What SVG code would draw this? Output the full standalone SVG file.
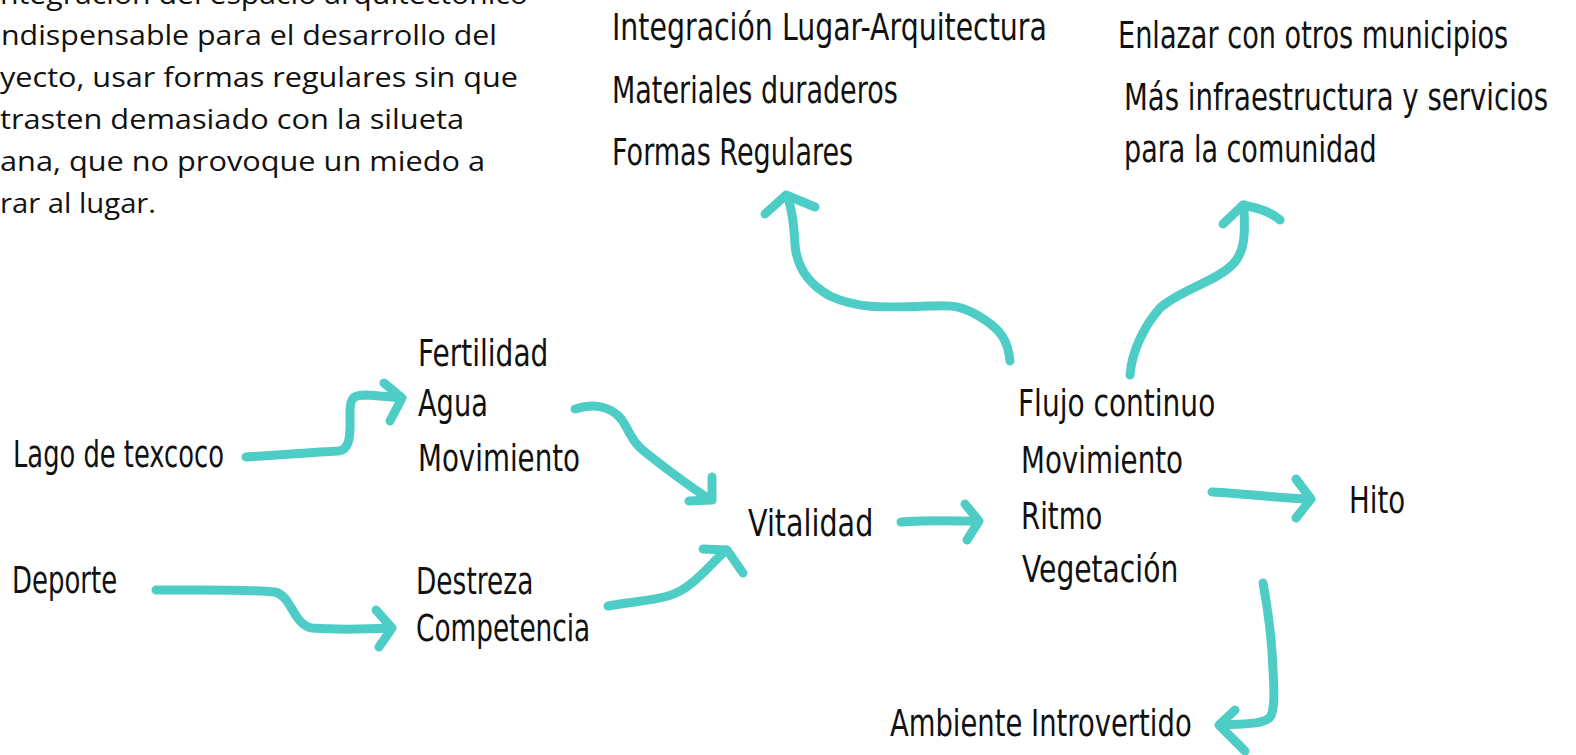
<svg xmlns="http://www.w3.org/2000/svg" width="1576" height="755" viewBox="0 0 1576 755">
<style>
.p{font-family:"Open Sans","Liberation Sans",sans-serif;font-size:28px;fill:#111}
.h{font-family:"DejaVu Sans","Liberation Sans",sans-serif;font-size:38px;fill:#111}
.c{fill:none;stroke:#4ecdc6;stroke-width:9;stroke-linecap:round;stroke-linejoin:round}
</style>
<rect width="1576" height="755" fill="#fff"/>
<g id="nota">
<text class="p" x="0" y="4" textLength="528" lengthAdjust="spacingAndGlyphs">ntegración del espacio arquitectónico</text>
<text class="p" x="1" y="45" textLength="496" lengthAdjust="spacingAndGlyphs">ndispensable para el desarrollo del</text>
<text class="p" x="0" y="87" textLength="518" lengthAdjust="spacingAndGlyphs">yecto, usar formas regulares sin que</text>
<text class="p" x="0" y="129" textLength="464" lengthAdjust="spacingAndGlyphs">trasten demasiado con la silueta</text>
<text class="p" x="0" y="171" textLength="485" lengthAdjust="spacingAndGlyphs">ana, que no provoque un miedo a</text>
<text class="p" x="0" y="213" textLength="156" lengthAdjust="spacingAndGlyphs">rar al lugar.</text>
</g>
<g id="arquitectura">
<text class="h" transform="translate(612,40) scale(0.72,1)" textLength="604" lengthAdjust="spacingAndGlyphs">Integración Lugar-Arquitectura</text>
<text class="h" transform="translate(612,103) scale(0.72,1)" textLength="397" lengthAdjust="spacingAndGlyphs">Materiales duraderos</text>
<text class="h" transform="translate(612,165) scale(0.72,1)" textLength="335" lengthAdjust="spacingAndGlyphs">Formas Regulares</text>
</g>
<g id="comunidad">
<text class="h" transform="translate(1118,48) scale(0.72,1)" textLength="542" lengthAdjust="spacingAndGlyphs">Enlazar con otros municipios</text>
<text class="h" transform="translate(1124,110) scale(0.72,1)" textLength="589" lengthAdjust="spacingAndGlyphs">Más infraestructura y servicios</text>
<text class="h" transform="translate(1124,162) scale(0.72,1)" textLength="351" lengthAdjust="spacingAndGlyphs">para la comunidad</text>
</g>
<g id="lago"><text class="h" transform="translate(13,467) scale(0.72,1)" textLength="293" lengthAdjust="spacingAndGlyphs">Lago de texcoco</text></g>
<g id="agua">
<text class="h" transform="translate(418,366) scale(0.72,1)" textLength="181" lengthAdjust="spacingAndGlyphs">Fertilidad</text>
<text class="h" transform="translate(418,416) scale(0.72,1)" textLength="97" lengthAdjust="spacingAndGlyphs">Agua</text>
<text class="h" transform="translate(418,471) scale(0.72,1)" textLength="225" lengthAdjust="spacingAndGlyphs">Movimiento</text>
</g>
<g id="deporte"><text class="h" transform="translate(12,593) scale(0.72,1)" textLength="146" lengthAdjust="spacingAndGlyphs">Deporte</text></g>
<g id="competencia">
<text class="h" transform="translate(416,594) scale(0.72,1)" textLength="163" lengthAdjust="spacingAndGlyphs">Destreza</text>
<text class="h" transform="translate(416,641) scale(0.72,1)" textLength="242" lengthAdjust="spacingAndGlyphs">Competencia</text>
</g>
<g id="vitalidad"><text class="h" transform="translate(748,536) scale(0.72,1)" textLength="174" lengthAdjust="spacingAndGlyphs">Vitalidad</text></g>
<g id="flujo">
<text class="h" transform="translate(1018,416) scale(0.72,1)" textLength="274" lengthAdjust="spacingAndGlyphs">Flujo continuo</text>
<text class="h" transform="translate(1021,473) scale(0.72,1)" textLength="225" lengthAdjust="spacingAndGlyphs">Movimiento</text>
<text class="h" transform="translate(1021,529) scale(0.72,1)" textLength="113" lengthAdjust="spacingAndGlyphs">Ritmo</text>
<text class="h" transform="translate(1022,582) scale(0.72,1)" textLength="217" lengthAdjust="spacingAndGlyphs">Vegetación</text>
</g>
<g id="hito"><text class="h" transform="translate(1349,513) scale(0.72,1)" textLength="78" lengthAdjust="spacingAndGlyphs">Hito</text></g>
<g id="ambiente"><text class="h" transform="translate(890,736) scale(0.72,1)" textLength="419" lengthAdjust="spacingAndGlyphs">Ambiente Introvertido</text></g>
<g id="connectors">
<path class="c" d="M246,457 C280,455 315,452 338,451 C352,450 350,430 350,412 C350,397 354,395 366,395 C380,396 392,397 401,398"/>
<path class="c" d="M384,383 L402,398 L390,421"/>
<path class="c" d="M575,409 C590,404 610,404 622,420 C630,432 632,442 645,452 C665,468 688,485 709,499"/>
<path class="c" d="M712,477 L712,500 L689,501"/>
<path class="c" d="M156,590 C200,590 250,589 275,592 C292,596 293,625 312,628 C340,630 370,629 391,628"/>
<path class="c" d="M376,610 L392,628 L379,647"/>
<path class="c" d="M608,606 C630,602 650,601 668,596 C690,590 705,570 726,550"/>
<path class="c" d="M703,549 L727,550 L743,573"/>
<path class="c" d="M901,522 C930,520 955,521 977,521"/>
<path class="c" d="M965,504 L979,521 L967,540"/>
<path class="c" d="M1212,492 C1250,494 1280,498 1309,499"/>
<path class="c" d="M1296,479 L1311,499 L1296,518"/>
<path class="c" d="M1263,583 C1268,610 1272,640 1273,670 C1274,690 1275,705 1271,716 C1265,725 1240,724 1220,725"/>
<path class="c" d="M1235,710 L1219,725 L1245,751"/>
<path class="c" d="M1010,361 C1008,340 1000,330 985,320 C960,303 950,306 928,306 C890,307 860,310 830,296 C810,285 797,268 795,245 C794,225 792,208 787,196"/>
<path class="c" d="M765,214 L786,195 L815,207"/>
<path class="c" d="M1130,375 C1132,350 1145,325 1160,308 C1180,290 1215,282 1232,265 C1248,250 1244,225 1244,205"/>
<path class="c" d="M1223,224 L1243,205 C1260,208 1272,213 1280,220"/>
</g>
</svg>
